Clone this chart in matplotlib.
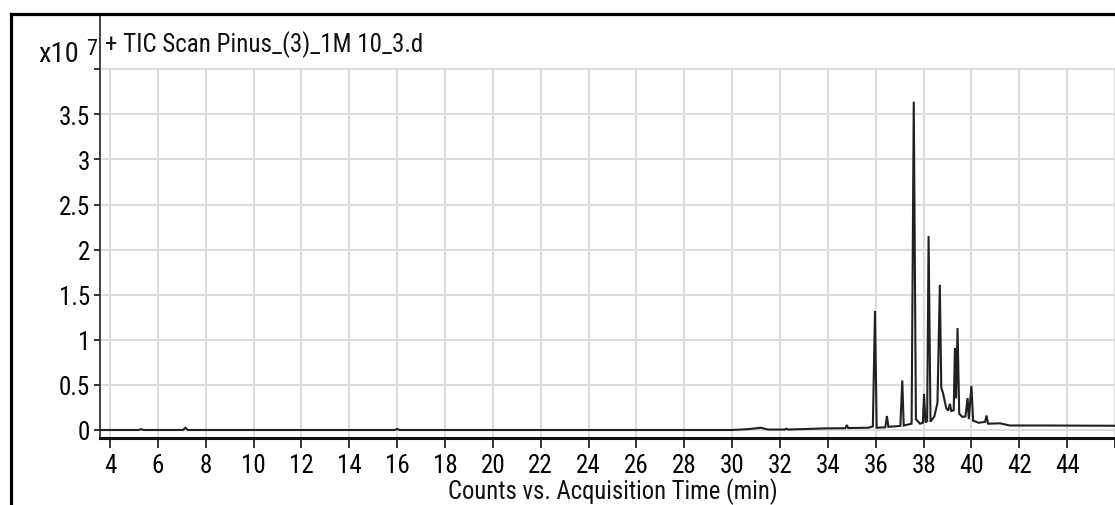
import matplotlib
matplotlib.use("Agg")
import matplotlib.pyplot as plt
from matplotlib.lines import Line2D

# ---- data ----
time_min = [3.58, 5.2, 5.3, 5.4, 7.05, 7.15, 7.25, 15.9, 16.0, 16.1,
            30.0, 30.7, 31.2, 31.5, 32.2, 32.27, 32.34, 33.9,
            34.73, 34.79, 34.85, 35.7,
            35.88, 35.97, 36.04,
            36.40, 36.47, 36.53,
            37.03, 37.11, 37.17,
            37.50, 37.59, 37.68, 37.85,
            37.97, 38.02, 38.08,
            38.15, 38.21, 38.29,
            38.45, 38.58, 38.68, 38.74, 38.82, 38.95, 39.03, 39.10, 39.16,
            39.26, 39.31, 39.36, 39.42, 39.49,
            39.62, 39.75, 39.84, 39.89, 40.00, 40.07,
            40.30, 40.57, 40.63, 40.70,
            41.20, 41.60, 43.00, 46.00]
counts_1e7 = [0.0, 0.0, 0.01, 0.0, 0.0, 0.025, 0.0, 0.0, 0.012, 0.0,
              0.0, 0.01, 0.025, 0.005, 0.005, 0.015, 0.005, 0.018,
              0.02, 0.055, 0.022, 0.025,
              0.04, 1.32, 0.025,
              0.03, 0.155, 0.035,
              0.045, 0.55, 0.05,
              0.07, 3.64, 0.12, 0.07,
              0.08, 0.40, 0.085,
              0.10, 2.15, 0.092,
              0.15, 0.30, 1.61, 0.47, 0.40, 0.24, 0.215, 0.29, 0.21,
              0.22, 0.91, 0.35, 1.13, 0.18,
              0.145, 0.15, 0.355, 0.12, 0.49, 0.103,
              0.08, 0.09, 0.16, 0.07,
              0.074, 0.05, 0.05, 0.047]

x_ticks = [4, 6, 8, 10, 12, 14, 16, 18, 20, 22, 24, 26, 28, 30, 32, 34, 36, 38, 40, 42, 44, 46]
x_tick_labels = [str(t) for t in x_ticks[:-1]] + [""]
y_ticks = [0, 0.5, 1, 1.5, 2, 2.5, 3, 3.5, 4]
y_tick_labels = ["0", "0.5", "1", "1.5", "2", "2.5", "3", "3.5", ""]
title_text = "+ TIC Scan Pinus_(3)_1M 10_3.d"
x_label = "Counts vs. Acquisition Time (min)"

plt.rcParams["font.family"] = ["Roboto Condensed", "Liberation Sans", "DejaVu Sans"]

W, H = 1115, 506
fig = plt.figure(figsize=(W / 100, H / 100), dpi=100)

def fx(px):
    return px / W

def fy(py):
    return (H - py) / H

ax_left, ax_right, ax_top, ax_bot = 100, 1115, 15, 439
ax = fig.add_axes([fx(ax_left), fy(ax_bot), fx(ax_right - ax_left), fy(ax_top) - fy(ax_bot)])

px_per_min = 23.93
x0 = 4 - (110 - ax_left) / px_per_min
x1 = 4 + (ax_right - 110) / px_per_min
px_per_unit = 90.2
y_zero_px = 431
y0 = (y_zero_px - ax_bot) / px_per_unit
y1 = (y_zero_px - ax_top) / px_per_unit
ax.set_xlim(x0, x1)
ax.set_ylim(y0, y1)

grid_c = "#dcdcdc"
for yv in y_ticks:
    ax.axhline(yv, color=grid_c, lw=1.5, zorder=0)
ax.vlines(x_ticks, y0, 4.0, color=grid_c, lw=1.5, zorder=0)

ax.plot(time_min, counts_1e7, color="#202020", lw=1.5, zorder=3, solid_joinstyle="miter")

ax.set_xticks(x_ticks)
ax.set_xticklabels(x_tick_labels)
ax.set_yticks(y_ticks)
ax.set_yticklabels(y_tick_labels)
ax.tick_params(axis="x", direction="out", length=7, width=1.3, pad=4, labelsize=18, color="#222222")
ax.tick_params(axis="y", direction="out", length=4, width=1.3, pad=3, labelsize=18, color="#222222")

for s in ["top", "right"]:
    ax.spines[s].set_visible(False)
ax.spines["left"].set_color("#333333")
ax.spines["left"].set_linewidth(1.3)
ax.spines["bottom"].set_color("#111111")
ax.spines["bottom"].set_linewidth(2.2)

fig.text(fx(105), fy(52), title_text, fontsize=18, ha="left", va="baseline", color="#111111")
fig.text(fx(79), fy(62), "x10", fontsize=20.5, ha="right", va="baseline", color="#111111")
fig.text(fx(86), fy(55), "7", fontsize=16, ha="left", va="baseline", color="#111111")
fig.text(fx(613), fy(499), x_label, fontsize=17.7, ha="center", va="baseline", color="#111111")

# outer frame (left and top edges)
fig.add_artist(Line2D([fx(11), fx(11)], [fy(14.5), 0], transform=fig.transFigure, color="black", lw=2.3))
fig.add_artist(Line2D([fx(11), 1], [fy(14.5), fy(14.5)], transform=fig.transFigure, color="black", lw=2.3))

fig.savefig("out.png", dpi=100)
